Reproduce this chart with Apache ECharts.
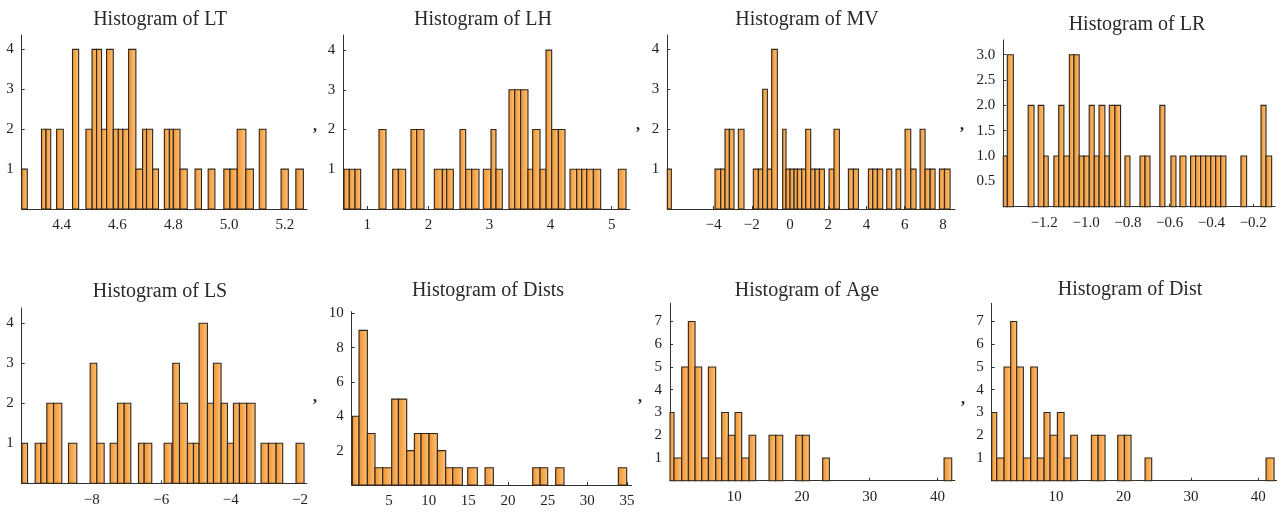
<!DOCTYPE html>
<html><head><meta charset="utf-8">
<script src="https://cdn.jsdelivr.net/npm/echarts@6/dist/echarts.min.js"></script>
<style>html,body{margin:0;padding:0;background:#fff}#c{width:1282px;height:512px}</style>
</head><body><div id="c"></div>
<script>
// ---------- DATA (bins: [start, end, count]) ----------
const titles = ['Histogram of LT','Histogram of LH','Histogram of MV','Histogram of LR',
                'Histogram of LS','Histogram of Dists','Histogram of Age','Histogram of Dist'];

const LT_bins = [[4.257,4.277,1],[4.328,4.344,2],[4.344,4.361,2],[4.382,4.406,2],[4.439,4.461,4],[4.487,4.509,2],[4.509,4.525,4],[4.525,4.543,4],[4.543,4.561,2],[4.561,4.585,4],[4.585,4.603,2],[4.603,4.619,2],[4.619,4.640,2],[4.640,4.666,4],[4.666,4.690,1],[4.690,4.704,2],[4.704,4.726,2],[4.726,4.747,1],[4.768,4.786,2],[4.786,4.800,2],[4.800,4.824,2],[4.824,4.850,1],[4.878,4.901,1],[4.925,4.949,1],[4.981,5.003,1],[5.003,5.029,1],[5.029,5.060,2],[5.060,5.087,1],[5.108,5.132,2],[5.186,5.212,1],[5.239,5.266,1]];
const LH_bins = [[0.618,0.705,1],[0.705,0.798,1],[0.798,0.891,1],[1.191,1.306,2],[1.415,1.508,1],[1.508,1.628,1],[1.715,1.808,2],[1.808,1.928,2],[2.097,2.228,1],[2.228,2.299,1],[2.299,2.408,1],[2.517,2.610,2],[2.610,2.708,1],[2.708,2.828,1],[2.899,3.025,1],[3.025,3.106,2],[3.106,3.210,1],[3.319,3.412,3],[3.412,3.510,3],[3.510,3.630,3],[3.630,3.707,1],[3.707,3.827,2],[3.827,3.925,1],[3.925,4.018,4],[4.018,4.127,2],[4.127,4.236,2],[4.318,4.427,1],[4.427,4.509,1],[4.509,4.591,1],[4.591,4.700,1],[4.700,4.820,1],[5.109,5.235,1]];
const MV_bins = [[-6.42,-6.21,1],[-3.925,-3.628,1],[-3.628,-3.401,1],[-3.401,-3.175,2],[-3.175,-2.930,2],[-2.704,-2.407,2],[-1.919,-1.657,1],[-1.657,-1.430,1],[-1.430,-1.186,3],[-1.186,-0.959,1],[-0.959,-0.663,4],[-0.384,-0.209,2],[-0.209,0,1],[0,0.209,1],[0.209,0.384,1],[0.384,0.610,1],[0.610,0.820,1],[0.820,1.081,2],[1.081,1.308,1],[1.308,1.535,1],[1.535,1.797,1],[2.041,2.302,1],[2.302,2.582,2],[3.053,3.314,1],[3.314,3.576,1],[4.099,4.326,1],[4.326,4.570,1],[4.570,4.849,1],[5.058,5.320,1],[5.547,5.791,1],[6.018,6.314,2],[6.314,6.593,1],[6.803,7.064,2],[7.064,7.326,1],[7.326,7.588,1],[7.814,8.076,1],[8.076,8.373,1]];
const LR_bins = [[-1.396,-1.377,1],[-1.377,-1.348,3],[-1.277,-1.249,2],[-1.229,-1.202,2],[-1.202,-1.181,1],[-1.154,-1.131,1],[-1.131,-1.106,2],[-1.106,-1.080,1],[-1.080,-1.058,3],[-1.058,-1.033,3],[-1.033,-1.010,1],[-1.010,-0.985,1],[-0.985,-0.961,2],[-0.961,-0.938,1],[-0.938,-0.910,2],[-0.910,-0.889,1],[-0.889,-0.862,2],[-0.862,-0.835,2],[-0.814,-0.790,1],[-0.742,-0.718,1],[-0.718,-0.694,1],[-0.647,-0.623,2],[-0.594,-0.570,1],[-0.551,-0.522,1],[-0.500,-0.476,1],[-0.476,-0.452,1],[-0.452,-0.428,1],[-0.428,-0.404,1],[-0.404,-0.380,1],[-0.380,-0.356,1],[-0.356,-0.331,1],[-0.259,-0.232,1],[-0.163,-0.139,2],[-0.139,-0.112,1]];
const LS_bins = [[-10.015,-9.852,1],[-9.632,-9.468,1],[-9.468,-9.296,1],[-9.296,-9.104,2],[-9.104,-8.864,2],[-8.672,-8.432,1],[-8.048,-7.856,3],[-7.856,-7.645,1],[-7.472,-7.261,1],[-7.261,-7.069,2],[-7.069,-6.877,2],[-6.656,-6.493,1],[-6.493,-6.273,1],[-5.917,-5.697,1],[-5.668,-5.476,3],[-5.476,-5.246,2],[-5.246,-5.073,1],[-5.073,-4.910,1],[-4.910,-4.670,4],[-4.670,-4.497,2],[-4.497,-4.276,3],[-4.276,-4.094,2],[-4.094,-3.921,1],[-3.921,-3.749,2],[-3.749,-3.537,2],[-3.537,-3.297,2],[-3.125,-2.914,1],[-2.914,-2.693,1],[-2.693,-2.501,1],[-2.117,-1.887,1]];
const Dists_bins = [[0.378,1.218,4],[1.218,2.269,9],[2.269,3.235,3],[3.235,4.202,1],[4.202,5.336,1],[5.336,6.176,5],[6.176,7.227,5],[7.227,8.193,2],[8.193,9.034,3],[9.034,10.042,3],[10.042,11.092,3],[11.092,12.143,2],[12.143,13.025,1],[13.025,14.244,1],[14.916,16.134,1],[17.101,18.151,1],[23.109,24.034,1],[24.034,25.0,1],[26.008,27.059,1],[33.908,34.958,1]];
const Age_bins = [[0.493,1.084,3],[1.084,2.217,1],[2.217,3.202,5],[3.202,4.187,7],[4.187,5.172,5],[5.172,6.158,1],[6.158,7.241,5],[7.241,8.128,1],[8.128,9.113,3],[9.113,10.099,2],[10.099,11.084,3],[11.084,12.167,1],[12.167,13.153,2],[15.123,16.108,2],[16.108,17.143,2],[19.064,20.049,2],[20.049,21.084,2],[23.054,24.039,1],[40.985,42.118,1]];
const Dist_bins = [[0.460,1.201,3],[1.201,2.288,1],[2.288,3.277,5],[3.277,4.167,7],[4.167,5.156,5],[5.156,6.243,1],[6.243,7.232,5],[7.232,8.220,1],[8.220,9.110,3],[9.110,10.198,2],[10.198,11.186,3],[11.186,12.175,1],[12.175,13.164,2],[15.240,16.228,2],[16.228,17.266,2],[19.145,20.133,2],[20.133,21.122,2],[23.198,24.187,1],[41.142,42.328,1]];

const LT_xticks = ['4.4','4.6','4.8','5.0','5.2'];
const LH_xticks = ['1','2','3','4','5'];
const MV_xticks = ['−4','−2','0','2','4','6','8'];
const LR_xticks = ['−1.2','−1.0','−0.8','−0.6','−0.4','−0.2'];
const LS_xticks = ['−8','−6','−4','−2'];
const Dists_xticks = ['5','10','15','20','25','30','35'];
const Age_xticks = ['10','20','30','40'];
const Dist_xticks = ['10','20','30','40'];

const count4_yticks = ['1','2','3','4'];
const LR_yticks = ['0.5','1.0','1.5','2.0','2.5','3.0'];
const Dists_yticks = ['2','4','6','8','10'];
const count7_yticks = ['1','2','3','4','5','6','7'];

// ---------- LAYOUT ----------
const panels = [
  {bins:LT_bins, xt:LT_xticks, yt:count4_yticks, left:21.7, right:307, top:35, bottom:209, xmin:4.257, xmax:5.279, ymax:4.36, tx:160, ty:20},
  {bins:LH_bins, xt:LH_xticks, yt:count4_yticks, left:343.3, right:630, top:35, bottom:209, xmin:0.607, xmax:5.30, ymax:4.38, tx:483, ty:20},
  {bins:MV_bins, xt:MV_xticks, yt:count4_yticks, left:667.3, right:955, top:35, bottom:209, xmin:-6.42, xmax:8.63, ymax:4.36, tx:807, ty:20},
  {bins:LR_bins, xt:LR_xticks, yt:LR_yticks, left:1003.3, right:1275, top:40, bottom:206.7, xmin:-1.396, xmax:-0.096, ymax:3.29, tx:1137, ty:25},
  {bins:LS_bins, xt:LS_xticks, yt:count4_yticks, left:21.7, right:306.7, top:308, bottom:483.3, xmin:-10.02, xmax:-1.81, ymax:4.38, tx:160, ty:292},
  {bins:Dists_bins, xt:Dists_xticks, yt:Dists_yticks, left:351.7, right:631.7, top:311.7, bottom:485, xmin:0.294, xmax:35.59, ymax:10.09, tx:488, ty:291},
  {bins:Age_bins, xt:Age_xticks, yt:count7_yticks, left:670, right:955, top:303.3, bottom:480.7, xmin:0.49, xmax:42.6, ymax:7.8, tx:807, ty:291},
  {bins:Dist_bins, xt:Dist_xticks, yt:count7_yticks, left:991.7, right:1276.7, top:303.3, bottom:480.7, xmin:0.46, xmax:42.72, ymax:7.8, tx:1130, ty:290}
];
const commas = [[315,127],[638,126],[962,126],[315,398],[640,398],[963,400]];

const toNum = s => Number(s.replace('−','-'));
const FONT = '"Liberation Serif", "DejaVu Serif", serif';
const axisColor = '#333';

function labelFormatter(labels){
  return function(v){
    for (const s of labels){ if (Math.abs(toNum(s)-v) < 1e-6) return s; }
    return '';
  };
}

const chart = echarts.init(document.getElementById('c'), null, {renderer:'canvas'});
const grid = [], xAxis = [], yAxis = [], series = [], graphic = [];

const barFill = {type:'linear', x:0, y:0, x2:1, y2:0, colorStops:[
  {offset:0, color:'#EE912E'}, {offset:0.5, color:'#F7AA52'}, {offset:1, color:'#FBC784'}]};

panels.forEach((p, i) => {
  grid.push({left:p.left, top:p.top, width:p.right-p.left, height:p.bottom-p.top, containLabel:false, outerBoundsMode:'none'});
  const xv = p.xt.map(toNum), yv = p.yt.map(toNum);
  xAxis.push({type:'value', gridIndex:i, min:p.xmin, max:p.xmax,
    axisLine:{show:true, onZero:false, lineStyle:{color:axisColor, width:1}},
    axisTick:{show:true, inside:true, length:3, customValues:xv, lineStyle:{color:axisColor}},
    axisLabel:{show:true, customValues:xv, formatter:labelFormatter(p.xt), margin:9, color:'#222', fontFamily:FONT, fontSize:15},
    splitLine:{show:false}});
  yAxis.push({type:'value', gridIndex:i, min:0, max:p.ymax,
    axisLine:{show:true, onZero:false, lineStyle:{color:axisColor, width:1}},
    axisTick:{show:true, inside:true, length:3, customValues:yv, lineStyle:{color:axisColor}},
    axisLabel:{show:true, customValues:yv, formatter:labelFormatter(p.yt), margin:8, color:'#222', fontFamily:FONT, fontSize:15},
    splitLine:{show:false}});
  series.push({type:'custom', xAxisIndex:i, yAxisIndex:i, data:p.bins,
    encode:{x:[0,1], y:2},
    renderItem:function(params, api){
      const a = api.coord([api.value(0), 0]);
      const b = api.coord([api.value(1), api.value(2)]);
      return {type:'rect', shape:{x:a[0], y:b[1], width:b[0]-a[0], height:a[1]-b[1]},
        style:{fill:barFill, stroke:'#2e251b', lineWidth:1.1}};
    }});
  graphic.push({type:'text', x:p.tx, y:p.ty, silent:true,
    style:{text:titles[i], font:'20px ' + FONT, fill:'#2a2a2a', align:'center', verticalAlign:'middle',
           textAlign:'center', textVerticalAlign:'middle'}});
});
commas.forEach(c => graphic.push({type:'text', x:c[0], y:c[1], silent:true,
  style:{text:',', font:'bold 16px ' + FONT, fill:'#222', align:'center', verticalAlign:'middle',
         textAlign:'center', textVerticalAlign:'middle'}}));

chart.setOption({animation:false, backgroundColor:'#fff', grid, xAxis, yAxis, series, graphic});
</script></body></html>
